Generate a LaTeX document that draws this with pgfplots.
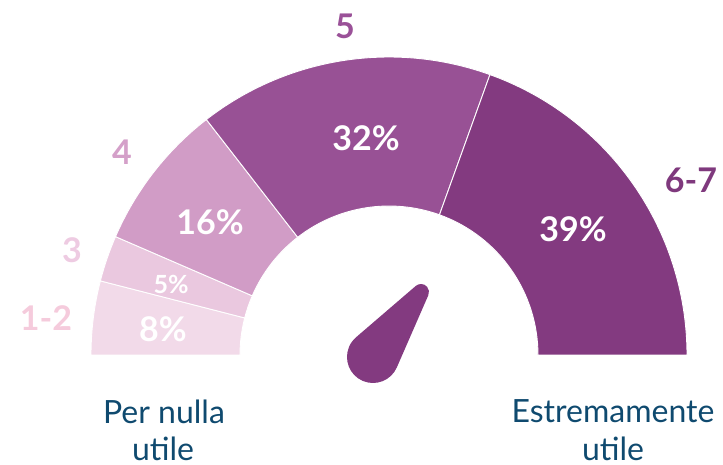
\documentclass[border=0pt]{standalone}
\usepackage{pgfplots}
\pgfplotsset{compat=1.18}
\usetikzlibrary{calc}
\usepackage{fontspec}
\setmainfont{Lato}
\definecolor{c12}{HTML}{F2DAE9}
\definecolor{c3}{HTML}{EAC8DF}
\definecolor{c4}{HTML}{D19CC6}
\definecolor{c5}{HTML}{985195}
\definecolor{c67}{HTML}{833A80}
\definecolor{l12}{HTML}{F5CBDC}
\definecolor{l3}{HTML}{EECBE2}
\definecolor{l4}{HTML}{D4A0C9}
\definecolor{l5}{HTML}{9A5198}
\definecolor{l67}{HTML}{7F397D}
\definecolor{txt}{HTML}{0F4A6F}
% shares (percent)
\def\vA{8}\def\vB{5}\def\vC{16}\def\vD{32}\def\vE{39}
\pgfmathsetmacro\aA{180}
\pgfmathsetmacro\aB{\aA-1.8*\vA}
\pgfmathsetmacro\aC{\aB-1.8*\vB}
\pgfmathsetmacro\aD{\aC-1.8*\vC}
\pgfmathsetmacro\aE{\aD-1.8*\vD}
\pgfmathsetmacro\aF{\aE-1.8*\vE}
\newcommand{\sector}[3]{%
  \fill[#1, draw=white, line width=0.9pt] ($(C)+(#2:298pt)$) arc[start angle=#2, end angle=#3, radius=298pt]
    -- ($(C)+(#3:149pt)$) arc[start angle=#3, end angle=#2, radius=149pt] -- cycle;}
\begin{document}
\begin{tikzpicture}
\begin{axis}[x=1pt, y=1pt, xmin=0, xmax=723, ymin=0, ymax=465, hide axis, clip=false]
\path (axis cs:0,0) rectangle (axis cs:723,465);
\coordinate (C) at (axis cs:389,110);
\sector{c12}{\aA}{\aB}
\sector{c3}{\aB}{\aC}
\sector{c4}{\aC}{\aD}
\sector{c5}{\aD}{\aE}
\sector{c67}{\aE}{\aF}
% needle
\coordinate (N) at (axis cs:373,108);
\coordinate (T) at (axis cs:421,173);
\fill[c67] ($(N)+(130.7:26pt)$) -- ($(T)+(130.7:8pt)$) arc[start angle=130.7, end angle=-23.5, radius=8pt]
   -- ($(N)+(-23.5:26pt)$) arc[start angle=-23.5, end angle=-229.3, radius=26pt] -- cycle;
% percentages
\begin{scope}[every node/.style={text=white, font=\bfseries\fontsize{34}{40}\selectfont, inner sep=0pt}]
\node at (axis cs:163,136) {\vA\%};
\node[font=\bfseries\fontsize{25}{30}\selectfont] at (axis cs:171,181) {\vB\%};
\node at (axis cs:210,243) {\vC\%};
\node at (axis cs:366,327) {\vD\%};
\node at (axis cs:573,236) {\vE\%};
\end{scope}
% category labels
\begin{scope}[every node/.style={font=\bfseries\fontsize{34}{40}\selectfont, inner sep=0pt}]
\node[text=l12] at (axis cs:46,147) {1-2};
\node[text=l3] at (axis cs:72,215) {3};
\node[text=l4] at (axis cs:122,313) {4};
\node[text=l5] at (axis cs:345,439) {5};
\node[text=l67] at (axis cs:691,285) {6-7};
\end{scope}
% end labels
\begin{scope}[every node/.style={text=txt, font=\fontsize{32}{38}\selectfont, inner sep=0pt, anchor=base}]
\node at (axis cs:164,41) {Per nulla};
\node at (axis cs:163,4) {utile};
\node at (axis cs:613,42) {Estremamente};
\node at (axis cs:613,4) {utile};
\end{scope}
\end{axis}
\end{tikzpicture}
\end{document}
